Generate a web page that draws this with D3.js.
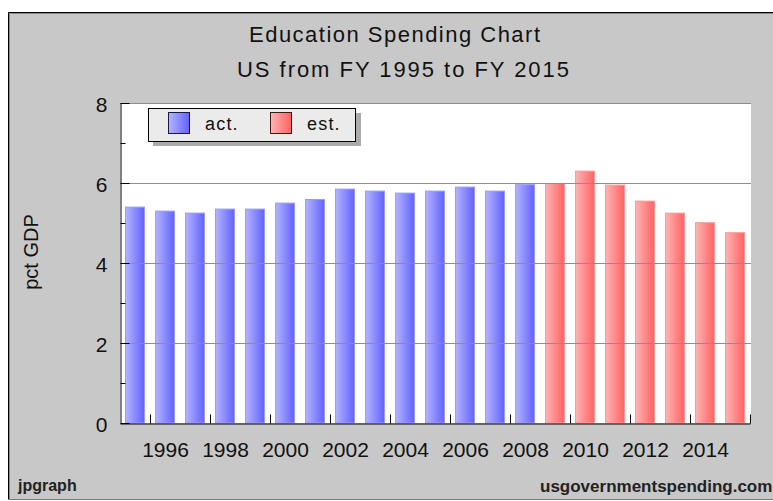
<!DOCTYPE html>
<html>
<head>
<meta charset="utf-8">
<script src="https://cdn.jsdelivr.net/npm/d3@7"></script>
<style>
  body { margin: 0; background: #fff; }
  svg { display: block; font-family: "Liberation Sans", Arial, sans-serif; }
</style>
</head>
<body>
<svg width="773" height="501"></svg>
<script>
// data
const actYears = [1995, 1996, 1997, 1998, 1999, 2000, 2001, 2002, 2003, 2004, 2005, 2006, 2007, 2008];
const actValues = [5.41, 5.31, 5.26, 5.36, 5.36, 5.51, 5.60, 5.86, 5.81, 5.76, 5.81, 5.91, 5.81, 5.97];
const estYears = [2009, 2010, 2011, 2012, 2013, 2014, 2015];
const estValues = [6.00, 6.31, 5.96, 5.56, 5.26, 5.02, 4.77];
const yTicks = [0, 2, 4, 6, 8];
const yMinor = [1, 3, 5, 7];
const xTickYears = [1996, 1998, 2000, 2002, 2004, 2006, 2008, 2010, 2012, 2014, 2016];

const allYears = actYears.concat(estYears);

const svg = d3.select('svg');

// plot box
const plotL = 120, plotR = 750, plotT = 103, plotB = 423;

const x = d3.scaleBand()
  .domain(allYears)
  .range([plotL, plotR])
  .paddingInner(1 / 3)
  .paddingOuter(1 / 6);

// band edges, for the ticks
const xEdge = d3.scaleLinear().domain([1995, 2016]).range([plotL, plotR]);

const y = d3.scaleLinear().domain([0, 8]).range([plotB, plotT]);

// background + frame
svg.append('rect')
  .attr('x', 8).attr('y', 12).attr('width', 800).attr('height', 488)
  .attr('fill', '#c8c8c8');
svg.append('path').attr('d', 'M8.5,500 V12.5 H773').attr('stroke', '#000').attr('fill', 'none');
svg.append('path').attr('d', 'M9.5,499 V13.5 H773').attr('stroke', '#8a8a8a').attr('fill', 'none');
svg.append('path').attr('d', 'M8,499.5 H773').attr('stroke', '#7a7a7a').attr('fill', 'none');

// plot area
svg.append('rect')
  .attr('x', plotL).attr('y', plotT)
  .attr('width', plotR - plotL + 1).attr('height', plotB - plotT)
  .attr('fill', '#fff');

// gradients
const defs = svg.append('defs');
function grad(id, c1, c2) {
  const g = defs.append('linearGradient').attr('id', id)
    .attr('x1', '0%').attr('x2', '100%').attr('y1', '0%').attr('y2', '0%');
  g.append('stop').attr('offset', '0%').attr('stop-color', c1);
  g.append('stop').attr('offset', '100%').attr('stop-color', c2);
}
grad('gAct', '#b4b4ff', '#6262ff');
grad('gEst', '#ffb4b4', '#ff6262');

// bars
svg.append('g').attr('class', 'act')
  .selectAll('rect')
  .data(actYears)
  .enter().append('rect')
    .attr('x', d => x(d) + 0.5)
    .attr('y', (d, i) => y(actValues[i]) + 0.5)
    .attr('width', x.bandwidth() - 1)
    .attr('height', (d, i) => y(0) - y(actValues[i]) - 0.5)
    .attr('fill', 'url(#gAct)')
    .attr('stroke', '#9a9aff');

svg.append('g').attr('class', 'est')
  .selectAll('rect')
  .data(estYears)
  .enter().append('rect')
    .attr('x', d => x(d) + 0.5)
    .attr('y', (d, i) => y(estValues[i]) + 0.5)
    .attr('width', x.bandwidth() - 1)
    .attr('height', (d, i) => y(0) - y(estValues[i]) - 0.5)
    .attr('fill', 'url(#gEst)')
    .attr('stroke', '#ff9a9a');

// grid lines (drawn over the bars, like the original)
svg.append('g')
  .selectAll('line')
  .data(yTicks.filter(d => d > 0))
  .enter().append('line')
    .attr('x1', plotL).attr('x2', plotR + 1)
    .attr('y1', d => Math.round(y(d)) + 0.5)
    .attr('y2', d => Math.round(y(d)) + 0.5)
    .attr('stroke', '#8e8e8e');

// y axis
const yAxis = svg.append('g')
  .attr('transform', `translate(${plotL + 0.5},0)`)
  .call(d3.axisLeft(y).tickValues(yTicks).tickSize(-9).tickPadding(13).tickSizeOuter(0));
yAxis.call(g => g.select('.domain').attr('stroke', '#000'));
yAxis.selectAll('text').attr('font-size', 21).attr('fill', '#111').attr('dy', '0.42em')
  .style('font-family', '"Liberation Sans", Arial, sans-serif');

svg.append('g')
  .attr('transform', `translate(${plotL + 0.5},0)`)
  .call(d3.axisLeft(y).tickValues(yMinor).tickSize(-5).tickFormat(''))
  .call(g => g.select('.domain').remove());

// x axis
const xAxis = svg.append('g')
  .attr('transform', `translate(0,${plotB + 0.5})`)
  .call(d3.axisBottom(xEdge).tickValues(xTickYears).tickSize(-9).tickSizeOuter(0)
    .tickFormat(d => d < 2016 ? d : ''));
xAxis.call(g => g.select('.domain').attr('stroke', '#000'));
xAxis.selectAll('text')
  .attr('font-size', 21).attr('fill', '#111')
  .attr('x', x.step() / 2).attr('y', 0).attr('dy', 33)
  .style('font-family', '"Liberation Sans", Arial, sans-serif');

// titles
svg.append('text')
  .attr('x', 249).attr('y', 42)
  .attr('textLength', 291).attr('lengthAdjust', 'spacing')
  .attr('font-size', 22).attr('fill', '#111')
  .text('Education Spending Chart');
svg.append('text')
  .attr('x', 237).attr('y', 77)
  .attr('textLength', 332).attr('lengthAdjust', 'spacing')
  .attr('font-size', 22).attr('fill', '#111')
  .text('US from FY 1995 to FY 2015');

// y axis title
svg.append('text')
  .attr('transform', 'translate(38,252) rotate(-90)')
  .attr('text-anchor', 'middle')
  .attr('font-size', 20).attr('fill', '#111')
  .text('pct GDP');

// legend
const legend = svg.append('g');
legend.append('rect')
  .attr('x', 153).attr('y', 113).attr('width', 208).attr('height', 33)
  .attr('fill', '#ababab');
legend.append('rect')
  .attr('x', 148.5).attr('y', 108.5).attr('width', 207).attr('height', 33)
  .attr('fill', '#ebebeb').attr('stroke', '#000');
legend.append('rect')
  .attr('x', 168.5).attr('y', 112.5).attr('width', 21).attr('height', 21)
  .attr('fill', 'url(#gAct)').attr('stroke', '#1a1a40');
legend.append('text')
  .attr('x', 205).attr('y', 130).attr('font-size', 18).attr('letter-spacing', 1.2)
  .attr('fill', '#111').text('act.');
legend.append('rect')
  .attr('x', 270.5).attr('y', 112.5).attr('width', 21).attr('height', 21)
  .attr('fill', 'url(#gEst)').attr('stroke', '#401a1a');
legend.append('text')
  .attr('x', 307).attr('y', 130).attr('font-size', 18).attr('letter-spacing', 1.2)
  .attr('fill', '#111').text('est.');

// footer
svg.append('text')
  .attr('x', 18).attr('y', 491)
  .attr('font-size', 16).attr('font-weight', 'bold').attr('fill', '#222')
  .text('jpgraph');
svg.append('text')
  .attr('x', 540).attr('y', 492)
  .attr('font-size', 17).attr('font-weight', 'bold').attr('fill', '#222')
  .text('usgovernmentspending.com');
</script>
</body>
</html>
